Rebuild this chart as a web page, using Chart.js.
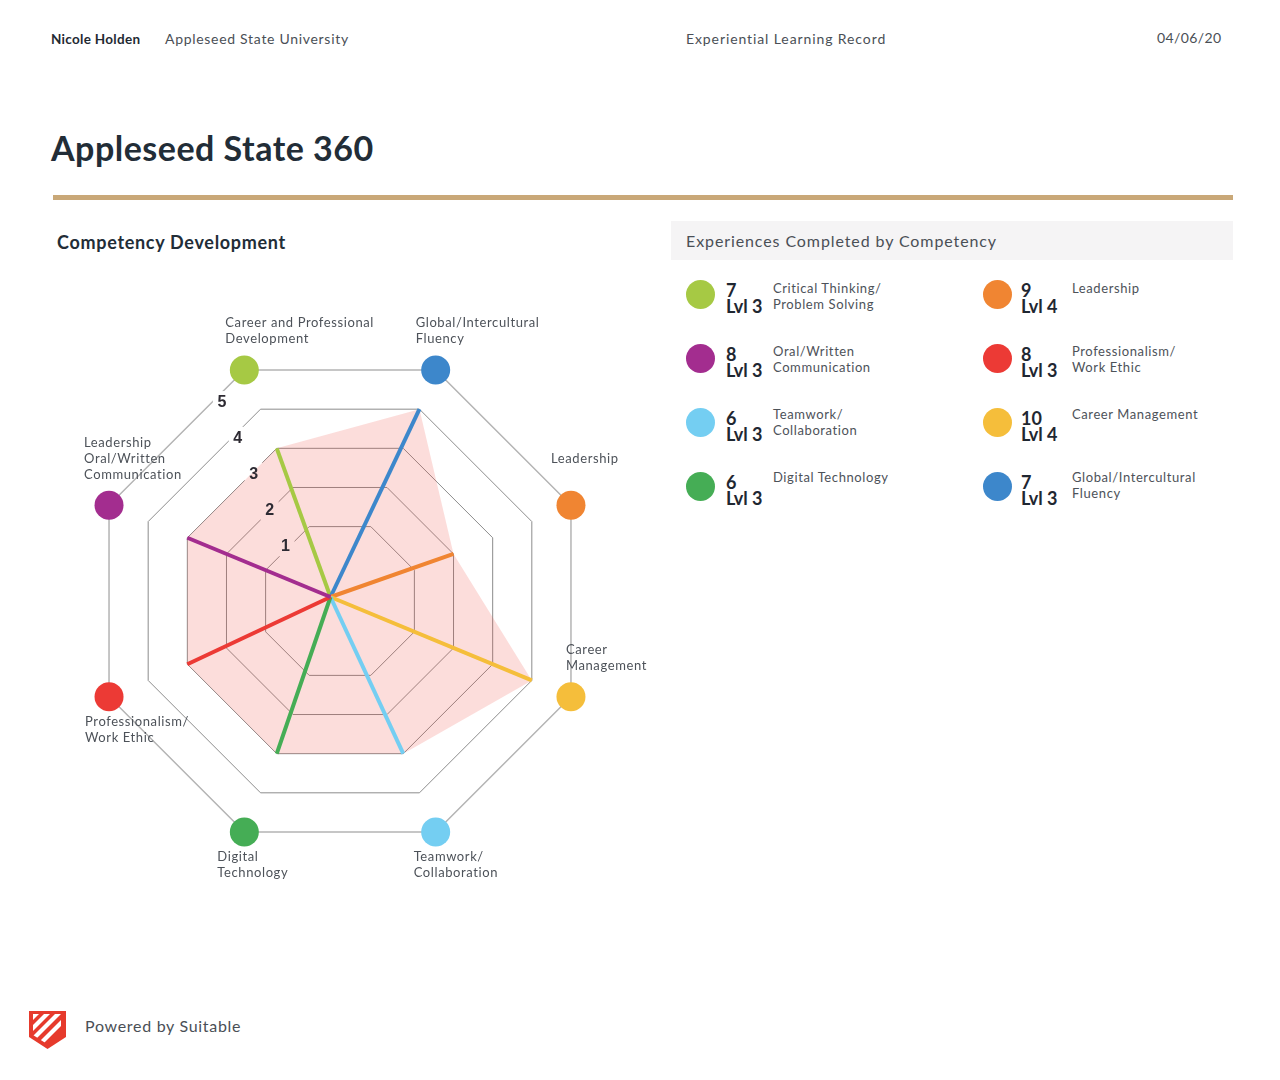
<!DOCTYPE html>
<html>
<head>
<meta charset="utf-8">
<script src="https://cdn.jsdelivr.net/npm/chart.js@4.4.1/dist/chart.umd.min.js"></script>
<style>
  html, body { margin: 0; padding: 0; background: #fff; }
  body { font-family: Lato, "Open Sans", sans-serif; color: #2b333b; }
  .page { position: relative; width: 1280px; height: 1080px; overflow: hidden; }
  .abs { position: absolute; white-space: nowrap; }
  .thin { color: #4a4f56; letter-spacing: 0.4px; }
  #legend .dot { position: absolute; width: 29px; height: 29px; border-radius: 50%; }
  #legend .num { position: absolute; font-weight: 700; font-size: 18px; line-height: 16px; color: #1f2731; white-space: nowrap; }
  #legend .lab { position: absolute; font-size: 13px; line-height: 16px; color: #4d5259; letter-spacing: 0.6px; white-space: nowrap; }
</style>
</head>
<body>
<div class="page">
  <div class="abs" style="left:51px;top:31px;font-size:13.5px;line-height:16px;font-weight:700;color:#1f2a33;letter-spacing:0.3px;">Nicole Holden</div>
  <div class="abs thin" style="left:165px;top:31px;font-size:14px;line-height:16px;letter-spacing:0.7px;">Appleseed State University</div>
  <div class="abs thin" style="left:686px;top:31px;font-size:14px;line-height:16px;letter-spacing:0.9px;">Experiential Learning Record</div>
  <div class="abs thin" style="left:1157px;top:30px;font-size:14px;line-height:16px;">04/06/20</div>

  <div class="abs" style="left:51px;top:128px;font-size:34px;line-height:40px;font-weight:700;color:#222d37;letter-spacing:0.5px;">Appleseed State 360</div>
  <div class="abs" style="left:53px;top:195px;width:1180px;height:5px;background:#c9a878;"></div>

  <div class="abs" style="left:57px;top:231px;font-size:18px;line-height:22px;font-weight:700;color:#222d37;letter-spacing:0.7px;">Competency Development</div>

  <div class="abs" style="left:671px;top:221px;width:562px;height:39px;background:#f5f4f5;"></div>
  <div class="abs thin" style="left:686px;top:231px;font-size:16px;line-height:20px;letter-spacing:0.9px;">Experiences Completed by Competency</div>

  <div id="legend"></div>

  <canvas id="radar" width="640" height="620" style="position:absolute;left:40px;top:300px;width:640px;height:620px;"></canvas>

  <svg class="abs" style="left:28px;top:1010px;" width="40" height="40" viewBox="0 0 40 40">
    <defs>
      <clipPath id="inner"><path d="M5 4 H33 V25 L19 34 L5 25 Z"/></clipPath>
    </defs>
    <path d="M1 1 H38 V27 L19.5 39 L1 27 Z" fill="#e63a2c"/>
    <g clip-path="url(#inner)" stroke="#ffffff" stroke-width="4.2">
      <line x1="-4" y1="16" x2="16" y2="-4"/>
      <line x1="-4" y1="27" x2="27" y2="-4"/>
      <line x1="0" y1="34" x2="38" y2="-4"/>
      <line x1="10" y1="36" x2="44" y2="2"/>
    </g>
  </svg>
  <div class="abs thin" style="left:85px;top:1016px;font-size:16px;line-height:20px;letter-spacing:0.7px;">Powered by Suitable</div>
</div>

<script>
// ---------- Radar data ----------
const axisLabels = [
  ["Career and Professional", "Development"],
  ["Global/Intercultural", "Fluency"],
  ["Leadership"],
  ["Career", "Management"],
  ["Teamwork/", "Collaboration"],
  ["Digital", "Technology"],
  ["Professionalism/", "Work Ethic"],
  ["Leadership", "Oral/Written", "Communication"]
];
const axisValues = [3, 4, 2, 4, 3, 3, 3, 3];
const axisColors = ["#a6c944", "#3d87cb", "#f08532", "#f5be3b", "#74cef2", "#45ad55", "#ec3a35", "#a32d8f"];
const tickLabels = [1, 2, 3, 4, 5];

// ---------- Legend data ----------
const legendNames = [
  ["Critical Thinking/", "Problem Solving"],
  ["Oral/Written", "Communication"],
  ["Teamwork/", "Collaboration"],
  ["Digital Technology"],
  ["Leadership"],
  ["Professionalism/", "Work Ethic"],
  ["Career Management"],
  ["Global/Intercultural", "Fluency"]
];
const legendCounts = [7, 8, 6, 6, 9, 8, 10, 7];
const legendLevels = [3, 3, 3, 3, 4, 3, 4, 3];
const legendColors = ["#a6c944", "#a32d8f", "#74cef2", "#45ad55", "#f08532", "#ec3a35", "#f5be3b", "#3d87cb"];

// ---------- Legend (HTML) ----------
(function buildLegend() {
  const host = document.getElementById('legend');
  let html = '';
  legendNames.forEach((lines, i) => {
    const col = Math.floor(i / 4), row = i % 4;
    const cx = col === 0 ? 700 : 997;
    const cy = 294 + row * 64;
    const numX = col === 0 ? 726 : 1021;
    const labX = col === 0 ? 773 : 1072;
    html += `<div class="dot" style="left:${cx - 14.5}px;top:${cy - 14.5}px;background:${legendColors[i]}"></div>`;
    html += `<div class="num" style="left:${numX}px;top:${cy - 12}px">${legendCounts[i]}<br>Lvl ${legendLevels[i]}</div>`;
    html += `<div class="lab" style="left:${labX}px;top:${280 + row * 63}px">${lines.join('<br>')}</div>`;
  });
  host.innerHTML = html;
})();

// ---------- Custom drawing plugin ----------
const labelDx = [-19, -20, -20, -5, -22, -27, -24, -25];
const labelAbove = [true, true, true, true, false, false, false, true];
const spokeShift = { x: -9.5, y: -4 };

function tickLabelPos(scale, v) {
  const r = scale.getDistanceFromCenterForValue(v);
  const cx = scale.xCenter, cy = scale.yCenter;
  const p = scale.getPointPosition(0, r * Math.cos(Math.PI / 8) - 2);
  const len = Math.hypot(p.x - cx, p.y - cy);
  const ux = (p.x - cx) / len, uy = (p.y - cy) / len;
  const nx = uy, ny = -ux;
  const d = 29 + (v - 1);
  return { x: p.x + nx * d, y: p.y + ny * d };
}

const radarDecor = {
  id: 'radarDecor',
  beforeDatasetsDraw(chart) {
    const scale = chart.scales.r;
    const ctx = chart.ctx;
    ctx.save();
    ctx.fillStyle = '#ffffff';
    tickLabels.forEach(v => {
      const p = tickLabelPos(scale, v);
      ctx.fillRect(p.x - 9, p.y - 11, 18, 22);
    });
    ctx.restore();
  },
  afterDatasetsDraw(chart) {
    const scale = chart.scales.r;
    const ctx = chart.ctx;
    const meta = chart.getDatasetMeta(0);
    ctx.save();
    // spokes to each value point
    ctx.lineWidth = 4;
    ctx.lineCap = 'butt';
    meta.data.forEach((pt, i) => {
      ctx.strokeStyle = axisColors[i];
      ctx.beginPath();
      ctx.moveTo(scale.xCenter + spokeShift.x, scale.yCenter + spokeShift.y);
      ctx.lineTo(pt.x, pt.y);
      ctx.stroke();
    });
    // outer coloured dots at the maximum ring
    axisLabels.forEach((_, i) => {
      const p = scale.getPointPositionForValue(i, scale.max);
      ctx.fillStyle = axisColors[i];
      ctx.beginPath();
      ctx.arc(p.x, p.y, 14.5, 0, Math.PI * 2);
      ctx.fill();
    });
    // tick labels
    ctx.fillStyle = '#2e2b33';
    ctx.font = '700 16px "Liberation Sans", Arial, sans-serif';
    ctx.textAlign = 'center';
    ctx.textBaseline = 'middle';
    tickLabels.forEach(v => {
      const p = tickLabelPos(scale, v);
      ctx.fillText(String(v), p.x, p.y + 1);
    });
    // axis labels
    ctx.fillStyle = '#4d5259';
    ctx.font = '400 13px Lato, sans-serif';
    ctx.textAlign = 'left';
    try { ctx.letterSpacing = '0.6px'; } catch (e) {}
    axisLabels.forEach((lines, i) => {
      const p = scale.getPointPositionForValue(i, scale.max);
      const x = p.x + labelDx[i];
      let y0;
      if (labelAbove[i]) {
        y0 = p.y - 47 - Math.max(0, lines.length - 2) * 16;
      } else {
        y0 = p.y + 25;
      }
      lines.forEach((ln, k) => ctx.fillText(ln, x, y0 + k * 16));
    });
    ctx.restore();
  }
};

new Chart(document.getElementById('radar'), {
  type: 'radar',
  data: {
    labels: axisLabels,
    datasets: [{
      data: axisValues,
      backgroundColor: 'rgba(239, 68, 56, 0.18)',
      borderWidth: 0,
      pointRadius: 0,
      fill: 'start'
    }]
  },
  options: {
    responsive: false,
    animation: false,
    devicePixelRatio: 1,
    layout: { padding: { left: 50, right: 90, top: 51, bottom: 69 } },
    plugins: { legend: { display: false }, tooltip: { enabled: false } },
    scales: {
      r: {
        min: -0.9,
        max: 5,
        startAngle: -22.5,
        afterBuildTicks: (s) => { s.ticks = s.ticks.filter(t => t.value >= 1); },
        ticks: { display: false, stepSize: 1 },
        pointLabels: { display: false },
        angleLines: { display: false },
        grid: {
          color: (c) => (c.tick && c.tick.value === 5) ? '#b4b4b4' : '#8c8c8c',
          lineWidth: (c) => (c.tick && c.tick.value === 5) ? 1.5 : 1
        }
      }
    }
  },
  plugins: [radarDecor]
});
</script>
</body>
</html>
